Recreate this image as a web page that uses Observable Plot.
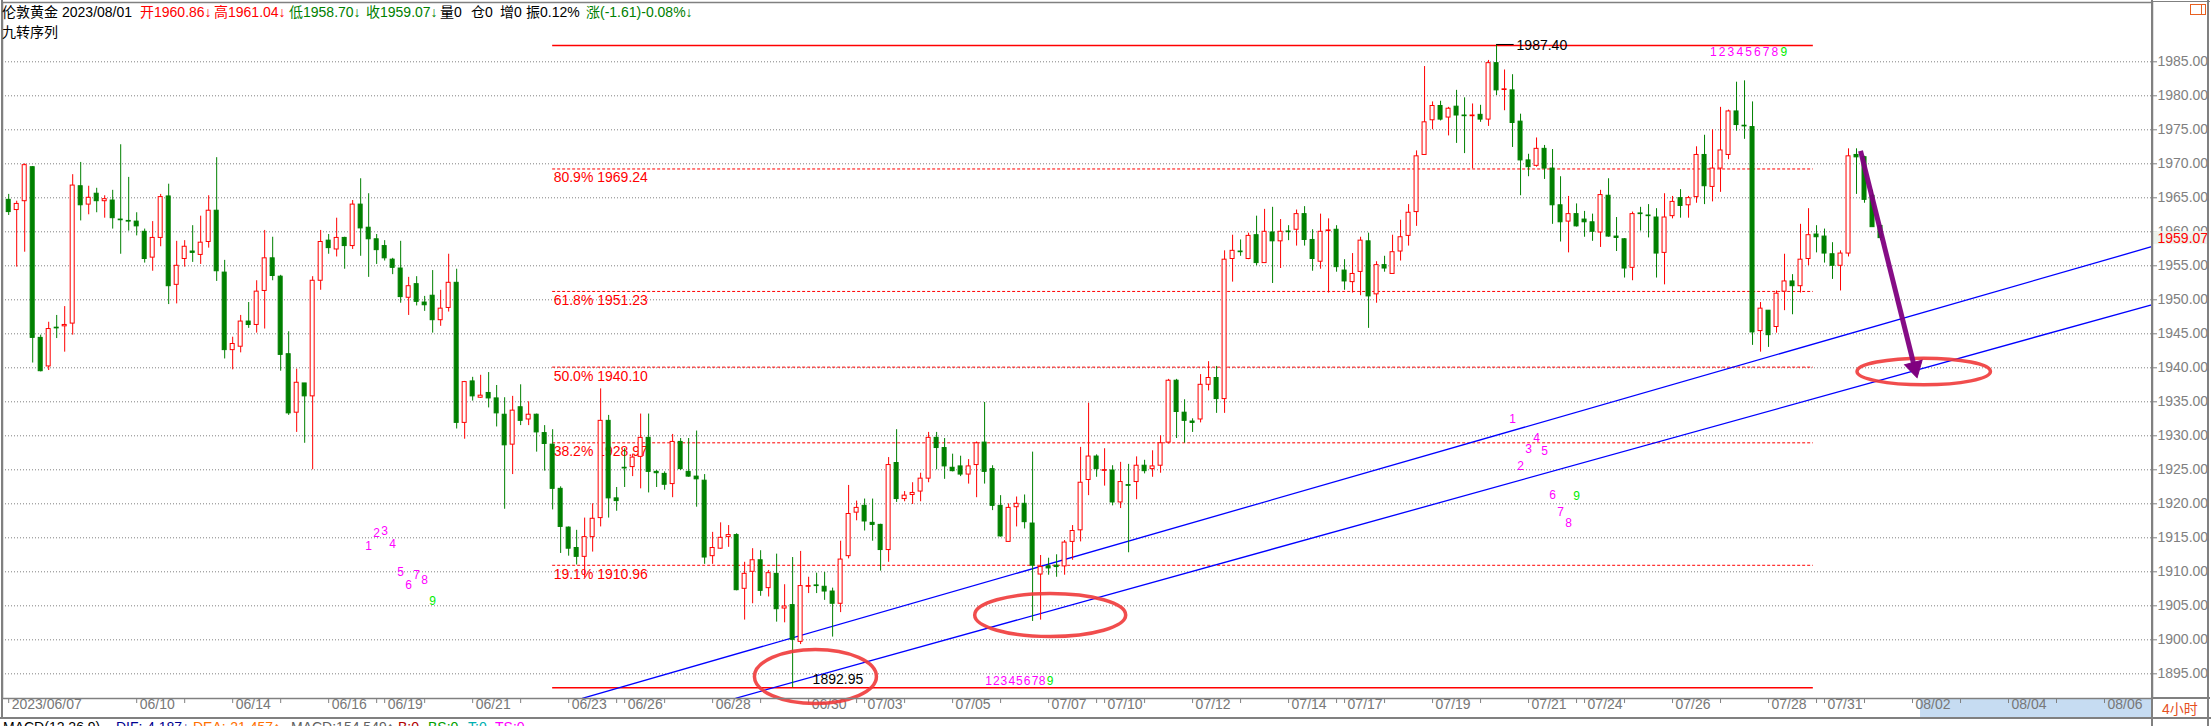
<!DOCTYPE html>
<html><head><meta charset="utf-8">
<script src="https://cdn.jsdelivr.net/npm/d3@7"></script>
<script src="https://cdn.jsdelivr.net/npm/@observablehq/plot@0.6"></script>
<style>
html,body{margin:0;padding:0;background:#fff;overflow:hidden;width:2211px;height:726px;}
#wrap{position:relative;width:2211px;height:726px;overflow:hidden;}
#chart{position:absolute;left:0;top:0;}
.ov{position:absolute;white-space:nowrap;font-family:"Liberation Sans",Arial,"Noto Sans CJK SC",sans-serif;font-size:14px;line-height:14px;z-index:5;}
.ln{position:absolute;background:#808080;z-index:4;}
</style></head><body><div id="wrap"><div id="chart"></div></div>
<script>
// ---------- data (4-hour bars, London gold) ----------
const open = [
1964.7,1963.2,1964.5,1969.5,1944.4,1940.2,1945.9,1946.1,1946.5,1966.7,
1964.0,1965.6,1964.5,1964.6,1961.8,1961.6,1961.5,1960.0,1956.2,1959.1,
1965.2,1952.2,1956.0,1957.1,1956.6,1958.5,1963.1,1954.0,1942.6,1943.1,
1946.8,1946.3,1951.3,1956.1,1953.4,1942.0,1933.4,1937.7,1935.8,1952.8,
1958.7,1957.4,1959.1,1957.9,1964.0,1960.6,1958.9,1957.9,1955.9,1954.6,
1950.3,1952.3,1949.6,1950.6,1947.0,1948.8,1952.5,1931.9,1938.0,1935.6,
1936.3,1935.5,1933.1,1928.7,1934.2,1932.4,1933.1,1930.4,1928.7,1922.2,
1916.5,1913.5,1912.2,1915.1,1917.9,1932.2,1920.8,1925.3,1925.4,1926.9,
1929.7,1924.7,1924.4,1922.9,1929.1,1924.7,1924.0,1923.4,1912.3,1913.4,
1915.1,1915.4,1907.5,1910.0,1911.7,1907.6,1909.7,1904.6,1905.1,1899.7,
1907.8,1908.0,1907.8,1907.1,1905.3,1912.3,1918.7,1919.7,1917.2,1916.9,
1913.2,1926.0,1920.7,1921.3,1921.8,1923.7,1929.7,1928.2,1925.3,1925.5,
1924.3,1925.7,1929.0,1925.1,1919.7,1914.4,1919.5,1920.0,1917.1,1909.6,
1910.8,1910.9,1910.8,1914.4,1916.1,1923.5,1926.95,1924.85,1924.9,1920.2,
1922.75,1923.2,1925.6,1925.1,1925.6,1929.0,1938.1,1933.4,1932.1,1932.4,
1937.5,1938.5,1935.4,1956.0,1957.1,1956.0,1959.5,1955.4,1959.9,1958.6,
1960.05,1960.3,1962.6,1958.8,1955.6,1960.1,1960.3,1954.3,1952.6,1954.1,
1958.6,1950.8,1955.1,1953.8,1957.1,1959.4,1962.9,1971.3,1976.4,1978.5,
1976.8,1978.4,1977.1,1977.0,1977.2,1976.5,1984.8,1980.85,1980.8,1976.2,
1970.5,1969.7,1972.2,1969.3,1963.9,1961.5,1962.6,1961.8,1961.4,1959.9,
1965.3,1959.3,1958.9,1954.7,1962.7,1962.4,1962.1,1956.9,1962.3,1964.95,
1963.9,1965.1,1971.3,1966.6,1969.3,1971.3,1977.7,1975.6,1975.4,1945.4,
1948.4,1946.0,1951.2,1952.7,1952.0,1956.0,1959.6,1959.3,1956.7,1955.0,
1956.8,1971.3,1970.97,1965.3,1960.86];
const high = [
1965.5,1964.5,1970.0,1969.6,1944.8,1946.7,1947.7,1949.0,1968.4,1970.2,
1966.7,1966.4,1965.3,1966.1,1972.8,1968.0,1962.8,1960.4,1961.5,1965.5,
1967.0,1958.6,1958.7,1960.9,1962.3,1965.3,1970.9,1955.8,1944.5,1947.7,
1949.6,1952.8,1960.2,1959.2,1953.6,1945.3,1939.8,1937.7,1953.4,1960.2,
1959.6,1962.0,1959.2,1964.6,1967.8,1965.6,1959.6,1958.7,1956.1,1958.6,
1953.3,1953.4,1950.5,1954.3,1951.4,1956.7,1954.5,1938.0,1938.6,1938.9,
1939.3,1937.4,1935.6,1935.8,1937.5,1935.0,1933.2,1931.5,1930.9,1922.5,
1916.6,1916.1,1917.9,1920.0,1936.9,1933.0,1922.4,1928.1,1927.3,1933.2,
1933.2,1924.9,1924.7,1930.2,1929.6,1929.6,1930.7,1924.3,1915.8,1917.2,
1916.8,1915.6,1911.4,1913.4,1913.1,1910.2,1912.6,1908.1,1912.1,1913.0,
1909.2,1909.8,1909.9,1907.6,1914.5,1922.7,1920.4,1920.7,1920.7,1917.0,
1926.8,1930.9,1921.8,1923.1,1924.5,1930.5,1930.5,1929.6,1927.3,1927.0,
1926.5,1929.1,1934.9,1925.6,1921.2,1920.0,1921.0,1921.3,1927.6,1912.4,
1912.0,1912.5,1914.6,1916.8,1928.3,1934.8,1927.2,1928.1,1925.6,1926.1,
1925.8,1926.9,1926.4,1927.8,1930.0,1938.3,1938.3,1935.3,1932.5,1939.0,
1940.9,1940.2,1957.2,1959.5,1958.8,1959.8,1962.3,1963.3,1963.6,1961.8,
1960.9,1963.2,1963.7,1960.3,1962.6,1961.9,1960.9,1955.9,1956.8,1959.2,
1959.8,1955.6,1956.4,1959.5,1961.7,1964.0,1971.9,1984.3,1979.1,1979.2,
1978.3,1980.8,1979.7,1978.8,1978.6,1985.2,1987.4,1983.8,1983.1,1977.3,
1971.4,1973.8,1972.7,1972.1,1968.1,1965.2,1964.1,1963.0,1962.6,1966.1,
1967.8,1962.1,1959.0,1962.9,1963.6,1964.0,1963.4,1965.6,1965.2,1966.2,
1965.2,1972.5,1974.2,1975.0,1978.3,1977.9,1982.0,1982.2,1979.1,1949.6,
1948.4,1951.3,1956.7,1953.7,1961.1,1963.4,1960.9,1960.4,1958.4,1957.2,
1972.2,1972.2,1971.1,1966.1,1961.04];
const low = [
1962.4,1954.8,1957.0,1940.7,1939.4,1939.6,1944.3,1942.3,1944.8,1961.6,
1962.5,1962.8,1962.0,1960.4,1956.7,1960.1,1959.4,1955.4,1954.2,1957.8,
1949.3,1949.4,1954.8,1955.5,1955.2,1957.6,1952.7,1941.3,1939.7,1942.2,
1945.8,1945.1,1945.7,1952.8,1939.5,1933.0,1930.5,1928.9,1925.0,1951.4,
1956.7,1956.3,1954.5,1957.4,1956.4,1953.3,1955.2,1955.7,1953.7,1949.5,
1947.7,1949.1,1948.3,1945.1,1946.1,1948.2,1931.0,1929.5,1935.1,1935.5,
1934.1,1931.3,1919.2,1924.3,1931.5,1931.5,1927.6,1924.8,1919.1,1912.7,
1912.3,1911.0,1909.1,1912.9,1916.6,1917.9,1918.9,1922.4,1924.0,1922.2,
1921.6,1922.4,1922.0,1920.9,1924.9,1923.9,1919.5,1911.1,1911.1,1913.3,
1913.6,1907.2,1902.9,1905.3,1906.4,1906.3,1902.6,1902.5,1892.95,1899.3,
1906.8,1906.8,1905.8,1900.4,1904.0,1911.9,1917.5,1916.0,1914.5,1910.1,
1911.4,1920.2,1920.3,1919.9,1920.3,1923.1,1925.0,1923.6,1924.7,1924.0,
1922.9,1920.9,1922.9,1919.0,1915.1,1914.4,1916.6,1916.3,1902.7,1902.9,
1909.5,1909.2,1909.5,1911.7,1914.4,1921.2,1923.9,1922.6,1919.7,1919.3,
1912.8,1920.6,1924.4,1923.9,1924.5,1928.8,1929.6,1928.9,1930.5,1931.9,
1936.6,1933.3,1933.3,1952.6,1956.4,1955.9,1955.0,1955.4,1952.4,1954.6,
1958.7,1957.9,1957.9,1954.2,1954.5,1951.0,1954.06,1951.4,1951.0,1950.6,
1945.8,1949.5,1954.06,1953.8,1955.7,1957.9,1960.8,1971.3,1975.0,1976.3,
1974.1,1973.0,1971.5,1969.25,1976.1,1975.5,1980.04,1977.8,1972.4,1965.3,
1968.1,1969.5,1967.7,1961.1,1958.5,1956.9,1960.7,1959.2,1958.6,1957.7,
1959.2,1957.1,1953.2,1952.8,1960.1,1959.1,1953.2,1952.2,1961.9,1962.0,
1962.0,1964.2,1964.0,1964.4,1965.8,1970.6,1974.8,1973.6,1943.3,1942.3,
1943.0,1945.1,1948.4,1947.8,1951.0,1955.0,1956.9,1955.4,1953.0,1951.3,
1956.3,1965.5,1964.2,1960.68,1958.70];
const close = [
1962.9,1964.1,1969.8,1944.4,1939.5,1945.7,1945.8,1946.3,1966.8,1963.9,
1965.0,1964.5,1964.8,1962.0,1961.7,1961.5,1960.8,1956.0,1959.1,1965.1,
1952.0,1955.0,1957.8,1956.9,1958.4,1963.1,1954.2,1942.6,1943.5,1946.8,
1946.3,1951.2,1956.1,1953.5,1941.9,1933.3,1937.8,1935.8,1952.8,1958.5,
1957.6,1959.1,1957.9,1964.0,1960.5,1958.9,1957.3,1956.1,1954.7,1950.4,
1952.0,1949.7,1949.2,1947.0,1948.7,1952.5,1931.9,1937.9,1935.8,1935.9,
1935.5,1933.3,1928.6,1933.7,1932.2,1933.1,1930.5,1928.8,1922.2,1916.6,
1913.4,1912.2,1915.1,1917.8,1932.2,1920.8,1920.4,1925.2,1926.8,1929.7,
1924.7,1924.5,1922.8,1929.1,1925.1,1924.0,1923.6,1912.1,1913.5,1915.0,
1915.4,1907.3,1909.7,1911.7,1907.2,1909.8,1904.5,1904.9,1900.0,1907.9,
1907.9,1907.9,1907.1,1905.3,1911.8,1918.5,1919.4,1917.4,1916.9,1913.2,
1925.7,1920.7,1921.2,1921.6,1923.7,1929.7,1928.2,1925.5,1924.8,1924.3,
1925.5,1928.9,1924.7,1919.7,1915.2,1919.4,1920.0,1917.3,1910.9,1910.7,
1910.5,1910.7,1914.3,1916.0,1923.1,1926.95,1925.1,1924.95,1920.2,1923.2,
1922.65,1925.6,1924.8,1925.5,1928.9,1938.1,1933.5,1932.2,1931.9,1937.5,
1938.5,1935.4,1955.9,1957.2,1957.0,1959.4,1955.4,1960.0,1958.6,1960.0,
1959.95,1962.6,1958.8,1956.0,1960.0,1960.2,1954.8,1952.7,1953.8,1958.7,
1950.5,1955.1,1954.6,1957.0,1959.2,1962.8,1971.1,1976.1,1978.5,1976.5,
1978.1,1977.1,1977.0,1977.1,1976.5,1984.8,1980.8,1980.95,1976.0,1970.5,
1969.5,1972.2,1969.3,1963.9,1961.4,1962.6,1960.8,1961.4,1960.0,1965.4,
1959.3,1959.1,1954.6,1962.6,1962.6,1962.3,1956.8,1962.1,1964.4,1963.8,
1964.95,1971.3,1966.7,1969.3,1971.96,1977.7,1975.7,1975.5,1945.2,1948.7,
1944.8,1950.9,1952.7,1952.0,1955.9,1959.5,1959.2,1956.8,1955.0,1956.8,
1971.1,1970.95,1964.7,1960.68,1959.07];

// x-axis date labels (bar number where each day starts) and extra day ticks
const dateBars = [1,17,29,41,48,59,71,78,89,101,108,119,131,138,149,161,168,179,191,198,209,221,228,239,251,263];
const dateText = ["2023/06/07","06/10","06/14","06/16","06/19","06/21","06/23","06/26","06/28","06/30","07/03","07/05","07/07","07/10","07/12","07/14","07/17","07/19","07/21","07/24","07/26","07/28","07/31","08/02","08/04","08/06"];
const dayTickBars = [23,35,47,53,65,77,83,95,107,113,125,137,143,155,167,173,185,197,203,215,227,233,245,257];
const futureFrom = 240;

// price axis ticks
const yTicks = [1895,1900,1905,1910,1915,1920,1925,1930,1935,1940,1945,1950,1955,1960,1965,1970,1975,1980,1985];

// Fibonacci retracement between swing low and swing high
const fibPct = ["80.9%","61.8%","50.0%","38.2%","19.1%"];
const fibVal = [1969.24,1951.23,1940.10,1928.97,1910.96];
const swingVal = [1987.40,1892.95];
const fibFrom = 69, fibTo = 226.6;

// channel trend lines [bar, price] start -> end
const trendBar1 = [72.7, 269], trendVal1 = [1891.4, 1957.84];
const trendBar2 = [91.85, 269], trendVal2 = [1891.4, 1949.3];

// 九转 (TD sequential) counts
const tdDigits = [1,2,3,4,5,6,7,8,9];
const td1Bar = [46,47,48,49,50,51,52,53,54];
const td1Val = [1913.7,1915.7,1916.0,1914.0,1909.9,1908.1,1909.5,1908.7,1905.7];
const td2Bar = [189,190,191,192,193,194,195,196,197];
const td2Val = [1932.4,1925.5,1928.1,1929.6,1927.8,1921.2,1918.7,1917.1,1921.1];
const td3Bar = [214.1,215.2,216.3,217.4,218.5,219.6,220.7,221.8,222.9];
const td3Val = 1986.4;
const td4Bar = [123.5,124.46,125.4,126.4,127.35,128.3,129.3,130.2,131.2];
const td4Val = 1893.9;

// annotations: circled zones and projected move (shaft start -> head)
const circleBar = [101.85, 131.2, 240.4];
const circleVal = [1894.6, 1903.65, 1939.46];
const arrowBar = [232.5, 239.26], arrowVal = [1971.9, 1940.04];

// ---------- build ----------
const bars = open.map((o, i) => ({n: i + 1, o, h: high[i], l: low[i], c: close[i]}));
const up = bars.filter(d => d.c >= d.o), down = bars.filter(d => d.c < d.o);
const RED = "#ff0000", GREEN = "#008000", MAG = "#ff00ff", LIME = "#00ee00", GREY = "#808080", PURPLE = "#800080";
const bodyLo = d => Math.min(d.o, d.c);
const bodyHi = d => Math.max(d.o, d.c, Math.min(d.o, d.c) + 0.08);

const fib = fibPct.map((p, i) => ({p, v: fibVal[i]}));
const tdA = tdDigits.map((d, i) => ({d, n: td1Bar[i], v: td1Val[i]}))
  .concat(tdDigits.map((d, i) => ({d, n: td2Bar[i], v: td2Val[i]})))
  .concat(tdDigits.map((d, i) => ({d, n: td3Bar[i], v: td3Val})))
  .concat(tdDigits.map((d, i) => ({d, n: td4Bar[i], v: td4Val})));
const dates = dateBars.map((n, i) => ({n, t: dateText[i]}));
const last = bars[bars.length - 1], prev = bars[bars.length - 2];

function ellipse(rx, ry) {
  const k = 0.5522847;
  return {draw(ctx) {
    ctx.moveTo(rx, 0);
    ctx.bezierCurveTo(rx, ry * k, rx * k, ry, 0, ry);
    ctx.bezierCurveTo(-rx * k, ry, -rx, ry * k, -rx, 0);
    ctx.bezierCurveTo(-rx, -ry * k, -rx * k, -ry, 0, -ry);
    ctx.bezierCurveTo(rx * k, -ry, rx, -ry * k, rx, 0);
    ctx.closePath();
  }};
}
const ellSizes = [[61, 27], [75.5, 21.5], [66.7, 13.3]];

const chart = Plot.plot({
  width: 2211, height: 726,
  marginLeft: 2, marginRight: 59, marginTop: 2, marginBottom: 28,
  x: {domain: [0.225, 269], axis: null},
  y: {domain: [1891.37, 1993.72]},
  style: {fontFamily: "'Liberation Sans', Arial, sans-serif", fontSize: "14px", background: "white", overflow: "visible"},
  marks: [
    Plot.ruleY(yTicks, {stroke: GREY, strokeDasharray: "1,2", strokeWidth: 1}),
    Plot.rect([futureFrom], {x1: d => d, x2: 269, insetTop: 697, insetBottom: -19, fill: "#c6dcf2"}),
    Plot.ruleX(dateBars.concat(dayTickBars), {x: d => d, insetTop: 696, insetBottom: -5, stroke: GREY}),
    Plot.text(dates, {x: "n", text: "t", frameAnchor: "bottom", dy: 10, dx: 3, textAnchor: "start", fill: "#777", fontSize: 14}),
    Plot.axisY({anchor: "right", ticks: yTicks, tickFormat: d => d.toFixed(2), tickSize: 4, tickPadding: 1, color: GREY, fontSize: 14, label: null}),
    Plot.rect([last.c], {x1: 269.1, x2: 276, y1: d => d - 0.95, y2: d => d + 0.95, fill: "#eef3ee"}),
    Plot.text([last.c], {y: d => d, text: d => d.toFixed(2), frameAnchor: "right", dx: 5, textAnchor: "start", fill: RED, fontSize: 14}),
    // fibonacci
    Plot.ruleY(fib, {y: "v", x1: fibFrom, x2: fibTo, stroke: RED, strokeDasharray: "3,2", strokeWidth: 1}),
    Plot.text(fib, {x: fibFrom, y: "v", text: d => `${d.p} ${d.v.toFixed(2)}`, textAnchor: "start", dx: 1, dy: 9, fill: RED, fontSize: 14}),
    Plot.ruleY(swingVal, {x1: fibFrom, x2: fibTo, stroke: RED, strokeWidth: 1.5}),
    // trend channel
    Plot.link([0], {x1: trendBar1[0], x2: trendBar1[1], y1: trendVal1[0], y2: trendVal1[1], stroke: "#0000ff", strokeWidth: 1.3}),
    Plot.link([0], {x1: trendBar2[0], x2: trendBar2[1], y1: trendVal2[0], y2: trendVal2[1], stroke: "#0000ff", strokeWidth: 1.3}),
    // candles
    Plot.ruleX(up, {x: "n", y1: "l", y2: "h", stroke: RED, strokeWidth: 1}),
    Plot.ruleX(down, {x: "n", y1: "l", y2: "h", stroke: GREEN, strokeWidth: 1}),
    Plot.rect(up, {x1: d => d.n - 0.25, x2: d => d.n + 0.25, y1: bodyLo, y2: bodyHi, fill: "white", stroke: RED, strokeWidth: 1}),
    Plot.rect(down, {x1: d => d.n - 0.25, x2: d => d.n + 0.25, y1: bodyLo, y2: bodyHi, fill: GREEN, stroke: GREEN, strokeWidth: 1}),
    // swing labels
    Plot.ruleY([swingVal[0]], {x1: 187, x2: 189.2, stroke: "black", dy: -1}),
    Plot.text([swingVal[0]], {x: 189.5, y: d => d, text: d => d.toFixed(2), textAnchor: "start", fill: "black", fontSize: 14}),
    Plot.text([swingVal[1]], {x: 101.5, y: d => d, text: d => d.toFixed(2), textAnchor: "start", dy: -8, fill: "black", fontSize: 14}),
    // TD counts
    Plot.text(tdA.filter(d => d.d < 9), {x: "n", y: "v", text: "d", fill: MAG, fontSize: 12}),
    Plot.text(tdA.filter(d => d.d === 9), {x: "n", y: "v", text: "d", fill: LIME, fontSize: 12}),
    // circles
    ...circleBar.map((n, i) => Plot.dot([i], {x: () => n, y: () => circleVal[i], symbol: ellipse(...ellSizes[i]), r: 10, fill: "none", stroke: "#f03a3a", strokeWidth: 3.5, strokeOpacity: 0.9})),
    // projected move arrow: shaft + filled head
    Plot.link([0], {x1: arrowBar[0], x2: arrowBar[1], y1: arrowVal[0], y2: arrowVal[1], stroke: PURPLE, strokeWidth: 5, strokeOpacity: 0.95}),
    Plot.dot([0], {x: () => arrowBar[1], y: () => arrowVal[1], symbol: "triangle", r: 6.7, rotate: 166, fill: PURPLE, stroke: PURPLE, strokeWidth: 1}),
    Plot.frame({stroke: GREY, strokeWidth: 1.5})
  ]
});
document.getElementById("chart").appendChild(chart);

// ---------- header / chrome ----------
const wrap = document.getElementById("wrap");
function ov(text, left, top, color, extra) {
  const d = document.createElement("div");
  d.className = "ov"; d.textContent = text;
  d.style.left = left + "px"; d.style.top = top + "px"; d.style.color = color || "#000";
  if (extra) Object.assign(d.style, extra);
  wrap.appendChild(d);
}
function ln(l, t, w, h) {
  const d = document.createElement("div"); d.className = "ln";
  Object.assign(d.style, {left: l + "px", top: t + "px", width: w + "px", height: h + "px"});
  wrap.appendChild(d);
}
const chg = last.c - prev.c;
ov("伦敦黄金", 2, 5);
ov("2023/08/01", 62, 5);
ov("开" + last.o.toFixed(2) + "↓", 140, 5, RED);
ov("高" + last.h.toFixed(2) + "↓", 214, 5, RED);
ov("低" + last.l.toFixed(2) + "↓", 289, 5, GREEN);
ov("收" + last.c.toFixed(2) + "↓", 366, 5, GREEN);
ov("量0", 440, 5); ov("仓0", 471, 5); ov("增0", 500, 5);
ov("振" + ((last.h - last.l) / prev.c * 100).toFixed(2) + "%", 526, 5);
ov("涨(" + chg.toFixed(2) + ")" + (chg / prev.c * 100).toFixed(2) + "%↓", 586, 5, GREEN);
ov("九转序列", 2, 25);
ov("4小时", 2162, 702, "#e5501e");
// bottom indicator row (cut off by the window edge, as in the reference)
ov("MACD(12,26,9)", 3, 720); ov("DIF:-4.187↓", 116, 720, "#000090"); ov("DEA:-21.457↑", 193, 720, "#ff7000");
ov("MACD:154.549↑", 291, 720, "#606060"); ov("B:0", 398, 720, "#b00000"); ov("BS:0", 428, 720, "#00a000");
ov("T:0", 468, 720, "#00b0b0"); ov("TS:0", 495, 720, "#ff00ff");
// frame pieces outside the plot area
ln(2152, 1, 58, 1); ln(2151, 0, 2, 726); ln(2207, 0, 1.5, 726);
ln(2152, 697, 58, 1.5); ln(0, 717, 2211, 1.5); ln(1, 0, 1.5, 718);
const ic = document.createElement("div");
Object.assign(ic.style, {position: "absolute", left: "2190px", top: "4px", width: "14px", height: "9px", border: "1px solid #e86020", zIndex: 6});
const icd = document.createElement("div");
Object.assign(icd.style, {position: "absolute", left: "10px", top: "0", width: "1px", height: "9px", background: "#e86020"});
ic.appendChild(icd); wrap.appendChild(ic);
</script></body></html>
